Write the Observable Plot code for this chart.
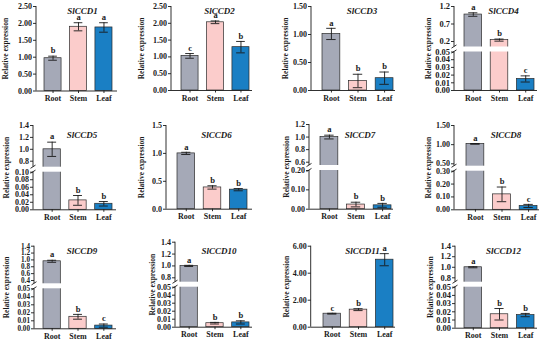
<!DOCTYPE html>
<html><head><meta charset="utf-8">
<script src="https://cdn.jsdelivr.net/npm/d3@7"></script>
<script src="https://cdn.jsdelivr.net/npm/@observablehq/plot@0.6"></script>
<style>
html,body{margin:0;padding:0;background:#fff;}
#fig{position:relative;width:550px;height:343px;overflow:hidden;background:#fff;}
.panel{position:absolute;}
.panel svg{overflow:visible;}
</style></head><body><div id="fig"></div>
<script>
// ---------- data ----------
const genes = ["SlCCD1","SlCCD2","SlCCD3","SlCCD4","SlCCD5","SlCCD6","SlCCD7","SlCCD8","SlCCD9","SlCCD10","SlCCD11","SlCCD12"];
const tissues = ["Root","Stem","Leaf"];
const means = [
  [0.97, 1.90, 1.88],
  [1.03, 2.03, 1.29],
  [1.01, 0.17, 0.22],
  [0.97, 0.24, 0.015],
  [1.00, 0.025, 0.016],
  [1.00, 0.39, 0.35],
  [1.00, 0.024, 0.020],
  [1.02, 0.12, 0.030],
  [0.96, 0.015, 0.004],
  [1.00, 0.005, 0.006],
  [1.00, 1.30, 5.00],
  [1.00, 0.017, 0.016]
];
const errors = [
  [0.06, 0.12, 0.14],
  [0.07, 0.04, 0.17],
  [0.10, 0.12, 0.11],
  [0.05, 0.03, 0.004],
  [0.12, 0.013, 0.006],
  [0.02, 0.03, 0.02],
  [0.03, 0.012, 0.010],
  [0.01, 0.057, 0.012],
  [0.03, 0.003, 0.002],
  [0.01, 0.001, 0.002],
  [0.03, 0.07, 0.45],
  [0.01, 0.007, 0.002]
];
const letters = [
  ["b","a","a"],["c","a","b"],["a","b","b"],["a","b","c"],
  ["a","b","b"],["a","b","b"],["a","b","b"],["a","b","c"],
  ["a","b","c"],["a","b","b"],["c","b","a"],["a","b","b"]
];
// tick labels (lower / whole axis) and upper segment of broken axes
const tickLabels = [
  ["0.00","0.50","1.00","1.50","2.00","2.50"],
  ["0.00","0.50","1.00","1.50","2.00","2.50"],
  ["0.00","0.50","1.00","1.50"],
  ["0.00","0.01","0.02","0.03","0.04","0.05"],
  ["0.00","0.02","0.04","0.06","0.08","0.10"],
  ["0.0","0.5","1.0","1.5"],
  ["0.00","0.10","0.20"],
  ["0.00","0.10","0.20","0.30"],
  ["0.00","0.01","0.02","0.03","0.04","0.05"],
  ["0.00","0.01","0.02","0.03","0.04","0.05"],
  ["0.00","2.00","4.00","6.00"],
  ["0.00","0.01","0.02","0.03","0.04","0.05"]
];
const upperTickLabels = [
  null, null, null,
  ["0.2","0.7","1.2"],
  ["0.8","1.0","1.2","1.4"],
  null,
  ["0.6","0.8","1.0","1.2"],
  ["0.50","1.00","1.50"],
  ["0.4","0.6","0.8","1.0","1.2","1.4"],
  ["0.8","1.0","1.2","1.4"],
  null,
  ["0.8","1.0","1.2","1.4"]
];
const colors = ["#a5a9b7", "#fbcccb", "#1a7fc4"];
const yTitle = "Relative expression";

// ---------- layout (pixels, local to each panel) ----------
const layout = [
  {left:0,   top:0,   w:135, h:110, ax:36,   ae:117, yTop:6,    yBot:90.5,  b:[44,112], lx:5.5, ty:7,  fs:8},
  {left:135, top:0,   w:135, h:110, ax:36,   ae:117, yTop:6,    yBot:90,    b:[46,114], lx:6.5, ty:7,  fs:8},
  {left:270, top:0,   w:135, h:110, ax:41,   ae:125, yTop:6,    yBot:90,    b:[52,123], lx:15,  ty:7,  fs:8},
  {left:405, top:0,   w:145, h:110, ax:49,   ae:132, yTop:6,    yBot:90,    b:[59,129], lx:23,  ty:7,  fs:8.5, lowTop:51.5, upPx:41},
  {left:0,   top:110, w:135, h:115, ax:33,   ae:116, yTop:15,   yBot:99.3,  b:[43,112], lx:6,   ty:21, fs:8, lowTop:61.7, upPx:50.7},
  {left:135, top:110, w:135, h:115, ax:31,   ae:117, yTop:15,   yBot:98.7,  b:[42,112], lx:6,   ty:21, fs:8},
  {left:270, top:110, w:135, h:115, ax:39,   ae:123, yTop:14,   yBot:98.7,  b:[50,121], lx:16,  ty:21, fs:8, lowTop:60,   upPx:51.7},
  {left:405, top:110, w:145, h:115, ax:49,   ae:134, yTop:15,   yBot:99.3,  b:[61,132], lx:23,  ty:21, fs:8, lowTop:60.7, upPx:53.3},
  {left:0,   top:225, w:135, h:118, ax:34,   ae:116, yTop:20.7, yBot:103.3, b:[43,112], lx:6.5, ty:22, fs:7.2, lowTop:63.3, upPx:55},
  {left:135, top:225, w:135, h:118, ax:40,   ae:117, yTop:16.7, yBot:101.7, b:[45,114], lx:17,  ty:22, fs:8, lowTop:61.7, upPx:52.3},
  {left:270, top:225, w:135, h:118, ax:40.7, ae:125, yTop:20.7, yBot:101.7, b:[53,123], lx:16,  ty:22, fs:8},
  {left:405, top:225, w:145, h:118, ax:50,   ae:132, yTop:20.7, yBot:102.7, b:[59,129], lx:25,  ty:22, fs:8.5, lowTop:61.7, upPx:52.3}
];
const GAP = 5;
const FONT = "'Liberation Serif','Times New Roman',serif";

const fig = document.getElementById("fig");

genes.forEach((gene, i) => {
  const L = layout[i];
  const rows = tissues.map((t, j) => ({tissue: t, value: means[i][j], err: errors[i][j], letter: letters[i][j]}));
  const low = tickLabels[i];
  const up = upperTickLabels[i];
  const labelMap = new Map();
  low.forEach(s => labelMap.set(+s, s));
  if (up) up.forEach(s => labelMap.set(+s, s));
  const ticks = [...labelMap.keys()];

  let yScale, lowMax, upMin, upMax, brk = null;
  if (up) {
    // broken axis: transform values to "pixels above the baseline", then scale linearly
    lowMax = +low[low.length - 1];
    const upLo = +up[0];
    upMax = +up[up.length - 1];
    const hLow = L.yBot - L.lowTop;
    const hGapTop = L.yBot - (L.lowTop - GAP);
    const pxPerUnit = (L.upPx - L.yTop) / (upMax - upLo);
    upMin = upLo - ((L.lowTop - GAP) - L.upPx) / pxPerUnit;
    const f = v => v <= lowMax ? v / lowMax * hLow
      : v < upMin ? hLow + (v - lowMax) / (upMin - lowMax) * GAP
      : hGapTop + (v - upMin) * pxPerUnit;
    brk = {f, hLow, hGapTop};
    yScale = {transform: f, domain: [0, L.yBot - L.yTop]};
  } else {
    upMax = +low[low.length - 1];
    yScale = {domain: [0, upMax]};
  }

  const axisLine = (index, scales, values, dims) => {
    const y = scales.y;
    const x0 = dims.marginLeft;
    const g = d3.create("svg:g").attr("fill", "none").attr("stroke", "#1a1a1a").attr("stroke-width", 0.9);
    if (!brk) {
      g.append("line").attr("x1", x0).attr("x2", x0).attr("y1", y(0)).attr("y2", y(upMax));
    } else {
      const yl = y(brk.hLow), yu = y(brk.hGapTop), yt = y(brk.f(upMax));
      g.append("rect").attr("x", x0 + 0.6).attr("width", dims.width - dims.marginRight - x0)
        .attr("y", yu).attr("height", yl - yu).attr("fill", "white").attr("stroke", "none");
      g.append("line").attr("x1", x0).attr("x2", x0).attr("y1", y(0)).attr("y2", yl);
      g.append("line").attr("x1", x0).attr("x2", x0).attr("y1", yu).attr("y2", yt);
      for (const yy of [yl, yu]) {
        g.append("line").attr("x1", x0 - 2.5).attr("x2", x0 + 2.5).attr("y1", yy + 1.6).attr("y2", yy - 1.6);
      }
    }
    return g.node();
  };

  const plot = Plot.plot({
    width: L.w, height: L.h,
    marginLeft: L.ax, marginRight: L.w - L.ae, marginTop: L.yTop, marginBottom: L.h - L.yBot,
    style: {fontFamily: FONT, fontWeight: "bold", fontSize: L.fs + "px", color: "#1a1a1a", background: "transparent", overflow: "visible"},
    x: {domain: tissues, range: L.b, paddingInner: 0.33, paddingOuter: 0, round: false},
    y: yScale,
    color: {domain: tissues, range: colors},
    marks: [
      Plot.barY(rows, {x: "tissue", y: "value", fill: "tissue", stroke: "#2a2a2a", strokeWidth: 0.7}),
      Plot.ruleX(rows, {x: "tissue", y1: d => d.value - d.err, y2: d => d.value + d.err, stroke: "#1a1a1a", strokeWidth: 0.9}),
      Plot.tickY(rows, {x: "tissue", y: d => d.value + d.err, insetLeft: 4.2, insetRight: 4.2, stroke: "#1a1a1a", strokeWidth: 0.9}),
      Plot.tickY(rows, {x: "tissue", y: d => d.value - d.err, insetLeft: 4.2, insetRight: 4.2, stroke: "#1a1a1a", strokeWidth: 0.9}),
      axisLine,
      Plot.ruleY([0], {stroke: "#1a1a1a", strokeWidth: 0.9}),
      Plot.axisY(ticks, {tickSize: 3, tickPadding: 1.5, tickFormat: d => labelMap.get(d), label: null, fontSize: L.fs, fontWeight: "bold", strokeWidth: 0.9}),
      Plot.axisX({tickSize: 2.5, tickPadding: 2, label: null, fontSize: 8, fontWeight: "bold", strokeWidth: 0.9}),
      Plot.text(rows, {x: "tissue", y: d => d.value + d.err, text: "letter", dy: -5.5, fontSize: 8.5, fontWeight: "bold", fill: "#1a1a1a"}),
      Plot.text([gene], {x: () => "Stem", frameAnchor: "top", text: d => d, dx: 4, dy: L.ty - L.yTop, fontSize: 9, fontWeight: "bold", fontStyle: "italic", fill: "#1a1a1a"}),
      Plot.text([yTitle], {frameAnchor: "left", textAnchor: "middle", text: d => d, rotate: -90, dx: L.lx - L.ax, fontSize: 7.5, fontWeight: "bold", fill: "#1a1a1a"})
    ]
  });
  const div = document.createElement("div");
  div.className = "panel";
  div.style.left = L.left + "px";
  div.style.top = L.top + "px";
  div.appendChild(plot);
  fig.appendChild(div);
});
</script>
</body></html>
